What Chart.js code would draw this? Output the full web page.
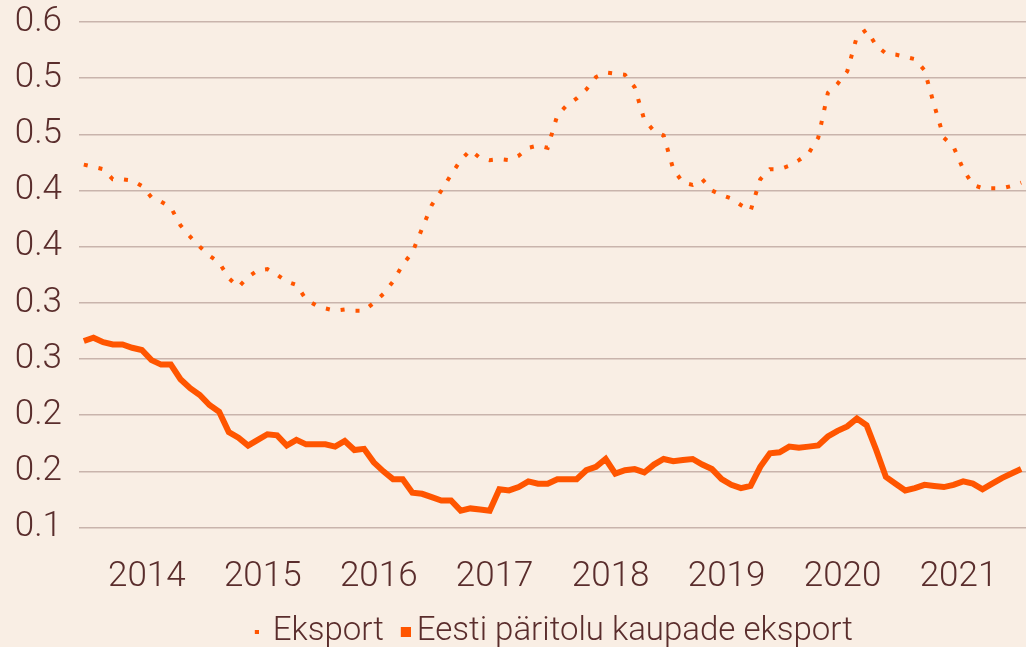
<!DOCTYPE html>
<html>
<head>
<meta charset="utf-8">
<script src="https://cdn.jsdelivr.net/npm/chart.js@4"></script>
<style>
  html, body { margin: 0; padding: 0; background: #f9eee4; }
  #wrap { width: 1026px; height: 647px; }
</style>
</head>
<body>
<div id="wrap"><canvas id="chart" width="1026" height="647"></canvas></div>
<script>
// Monthly series, Jul 2013 .. Aug 2021
const START_YEAR = 2013;
const START_MONTH = 7;
const months = [];
for (let i = 0; i < 98; i++) {
  const m = START_MONTH - 1 + i;
  months.push((START_YEAR + Math.floor(m / 12)) + '-' + String(m % 12 + 1).padStart(2, '0'));
}

const eksport = [
  0.423, 0.421, 0.419, 0.410, 0.410, 0.409, 0.404, 0.394, 0.390, 0.385,
  0.369, 0.359, 0.350, 0.342, 0.336, 0.322, 0.314, 0.323, 0.329, 0.330,
  0.325, 0.319, 0.316, 0.303, 0.298, 0.295, 0.293, 0.294, 0.293, 0.293,
  0.300, 0.308, 0.319, 0.334, 0.345, 0.366, 0.387, 0.400, 0.414, 0.427,
  0.436, 0.429, 0.427, 0.428, 0.427, 0.431, 0.438, 0.440, 0.438, 0.467,
  0.476, 0.482, 0.490, 0.501, 0.505, 0.504, 0.503, 0.492, 0.463, 0.453,
  0.449, 0.419, 0.407, 0.405, 0.410, 0.400, 0.396, 0.393, 0.387, 0.382,
  0.410, 0.419, 0.419, 0.422, 0.427, 0.433, 0.447, 0.487, 0.495, 0.506,
  0.537, 0.543, 0.529, 0.522, 0.521, 0.519, 0.517, 0.507, 0.476, 0.447,
  0.439, 0.419, 0.405, 0.402, 0.402, 0.402, 0.404, 0.407
];

const eestiPaeritolu = [
  0.266, 0.269, 0.265, 0.263, 0.263, 0.260, 0.258, 0.249, 0.245, 0.245,
  0.232, 0.224, 0.218, 0.209, 0.203, 0.185, 0.180, 0.173, 0.178, 0.183,
  0.182, 0.173, 0.178, 0.174, 0.174, 0.174, 0.172, 0.177, 0.169, 0.170,
  0.158, 0.150, 0.143, 0.143, 0.131, 0.130, 0.127, 0.124, 0.124, 0.115,
  0.117, 0.116, 0.115, 0.134, 0.133, 0.136, 0.141, 0.139, 0.139, 0.143,
  0.143, 0.143, 0.151, 0.154, 0.161, 0.148, 0.151, 0.152, 0.149, 0.156,
  0.161, 0.159, 0.160, 0.161, 0.156, 0.152, 0.143, 0.138, 0.135, 0.137,
  0.154, 0.166, 0.167, 0.172, 0.171, 0.172, 0.173, 0.181, 0.186, 0.190,
  0.197, 0.191, 0.169, 0.145, 0.139, 0.133, 0.135, 0.138, 0.137, 0.136,
  0.138, 0.141, 0.139, 0.134, 0.139, 0.144, 0.148, 0.152
];

const yTickLabels = ['0.1', '0.2', '0.2', '0.3', '0.3', '0.4', '0.4', '0.5', '0.5', '0.6'];
const seriesNames = ['Eksport', 'Eesti päritolu kaupade eksport'];

const ORANGE = '#ff5500';
const TEXT = '#5a2d2c';
const GRID = '#c9b4ac';
const FONT = { family: 'Roboto', size: 35, weight: 300 };
const LEGEND_FONT = { family: 'Roboto', size: 33, weight: 300 };

// square legend markers; the canvas is wider than the square so the
// square sits at its right end (moves it closer to the text)
function square(size, w) {
  const c = document.createElement('canvas');
  c.width = w; c.height = size;
  const g = c.getContext('2d');
  g.fillStyle = ORANGE;
  g.fillRect(w - size, 0, size, size);
  return c;
}
const legendMarks = [square(4, 9), square(10, 25)];

const bg = {
  id: 'bg',
  beforeDraw(chart) {
    const ctx = chart.ctx;
    ctx.save();
    ctx.fillStyle = '#f9eee4';
    ctx.fillRect(0, 0, chart.width, chart.height);
    ctx.restore();
  }
};

new Chart(document.getElementById('chart'), {
  type: 'line',
  data: {
    labels: months,
    datasets: [
      {
        label: seriesNames[0],
        data: eksport,
        borderColor: ORANGE,
        borderWidth: 4,
        borderDash: [4, 11],
        pointRadius: 0,
        tension: 0,
        fill: false
      },
      {
        label: seriesNames[1],
        data: eestiPaeritolu,
        borderColor: ORANGE,
        borderWidth: 6,
        pointRadius: 0,
        tension: 0,
        fill: false
      }
    ]
  },
  options: {
    responsive: false,
    animation: false,
    layout: { padding: { top: 22, right: 0, bottom: -11, left: 0 } },
    plugins: {
      tooltip: { enabled: false },
      legend: {
        position: 'bottom',
        fullSize: false,
        labels: {
          usePointStyle: true,
          boxWidth: 4,
          padding: 12.5,
          color: TEXT,
          font: LEGEND_FONT,
          generateLabels(chart) {
            return chart.data.datasets.map((ds, i) => ({
              text: ds.label,
              pointStyle: legendMarks[i],
              fillStyle: ORANGE,
              strokeStyle: ORANGE,
              lineWidth: 0,
              fontColor: TEXT,
              hidden: false,
              datasetIndex: i
            }));
          }
        }
      }
    },
    scales: {
      x: {
        offset: true,
        grid: { display: false, drawTicks: false },
        border: { display: false },
        ticks: {
          autoSkip: false,
          maxRotation: 0,
          color: TEXT,
          font: FONT,
          padding: 29,
          labelOffset: 5,
          callback(value, index) {
            const lab = months[index];
            return lab.endsWith('-01') ? lab.slice(0, 4) : '';
          }
        },
        afterFit(scale) {
          scale.height = 75;
          scale.paddingLeft = 0;
          scale.paddingRight = 0;
        }
      },
      y: {
        min: 0.1,
        max: 0.55,
        grid: { color: GRID, lineWidth: 1.5, drawTicks: false },
        border: { display: false },
        ticks: {
          stepSize: 0.05,
          color: TEXT,
          font: FONT,
          padding: 17,
          callback(value, index) {
            return yTickLabels[index];
          }
        },
        afterFit(scale) {
          scale.width = 79;
          scale.paddingTop = 0;
          scale.paddingBottom = 0;
        }
      }
    }
  },
  plugins: [bg]
});
</script>
</body>
</html>
